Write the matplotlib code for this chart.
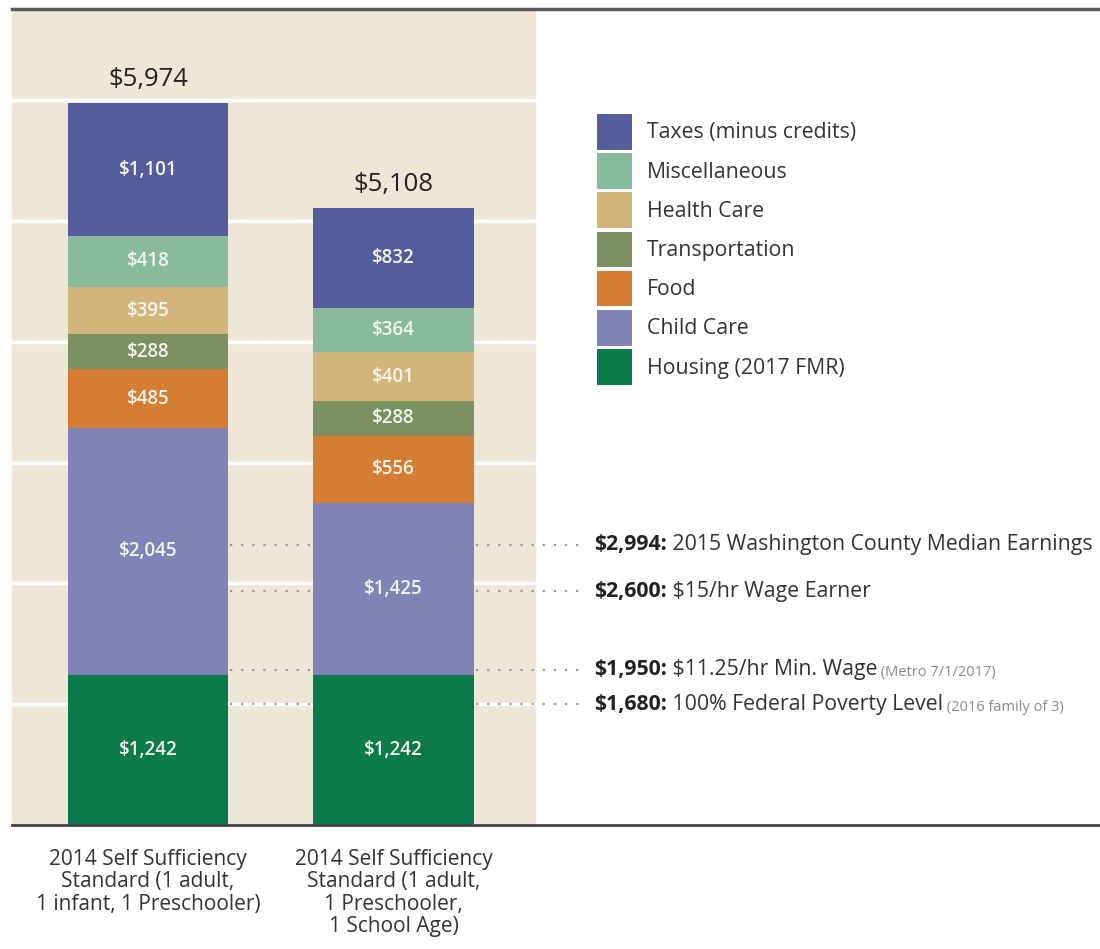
import matplotlib
matplotlib.use("Agg")
import matplotlib.pyplot as plt
from matplotlib.patches import Rectangle

plt.rcParams["font.family"] = ["Open Sans", "DejaVu Sans"]

# ---- data -------------------------------------------------------------
categories = [
    "2014 Self Sufficiency\nStandard (1 adult,\n1 infant, 1 Preschooler)",
    "2014 Self Sufficiency\nStandard (1 adult,\n1 Preschooler,\n1 School Age)",
]
components = [
    "Housing (2017 FMR)",
    "Child Care",
    "Food",
    "Transportation",
    "Health Care",
    "Miscellaneous",
    "Taxes (minus credits)",
]
housing = [1242, 1242]
child_care = [2045, 1425]
food = [485, 556]
transportation = [288, 288]
health_care = [395, 401]
miscellaneous = [418, 364]
taxes = [1101, 832]
totals = [5974, 5108]

ref_amounts = [2994, 2600, 1950, 1680]
ref_text = [
    "2015 Washington County Median Earnings",
    "$15/hr Wage Earner",
    "$11.25/hr Min. Wage",
    "100% Federal Poverty Level",
]
ref_notes = ["", "", "(Metro 7/1/2017)", "(2016 family of 3)"]
# height where each marker line sits in the original graphic (not drawn to scale there)
ref_levels = [2320, 1935, 1285, 1000]

colors = ["#0b7a4d", "#8083b5", "#d67d34", "#7b9161", "#d1b57a", "#88bb9b", "#545c9c"]
beige = "#eee6d7"

# ---- layout helpers (pixel -> data) -------------------------------------
W, H = 1100, 949
X0, XU = 148, 245.5          # pixel of bar 0 centre, pixels per category
Y0, YU = 825, 725 / 6000     # pixel of baseline, pixels per dollar


def px(p):
    return (p - X0) / XU


def py(p):
    return (Y0 - p) / YU


fig = plt.figure(figsize=(W / 100, H / 100), dpi=100)
ax = fig.add_axes([0, 0, 1, 1])
ax.set_xlim(px(0), px(W))
ax.set_ylim(py(H), py(0))
ax.axis("off")

# background panel and grid
ax.add_patch(Rectangle((px(12), 0), px(535) - px(12), py(9), color=beige, zorder=0))
for g in range(1000, 7000, 1000):
    ax.plot([px(12), px(535)], [g, g], color="white", lw=2.5, zorder=1)
ax.plot([px(12), px(W)], [py(9), py(9)], color="#5a5a5a", lw=2.5, zorder=3)
ax.plot([px(12), px(W)], [0, 0], color="#444444", lw=2, zorder=3)

# stacked bars
series = [housing, child_care, food, transportation, health_care, miscellaneous, taxes]
x = [0, 1]
width = 0.652
bottoms = [0, 0]
handles = []
for name, vals, col in zip(components, series, colors):
    bars = ax.bar(x, vals, width=width, bottom=bottoms, color=col, label=name, zorder=2)
    handles.append(bars)
    for xi, v, b in zip(x, vals, bottoms):
        ax.text(xi, b + v / 2, f"${v:,}", ha="center", va="center", fontsize=13.5,
                fontweight="semibold", color="#f4f4ee", zorder=4)
    bottoms = [b + v for b, v in zip(bottoms, vals)]

for xi, t in zip(x, totals):
    ax.annotate(f"${t:,}", (xi, t), xytext=(0, 8), textcoords="offset points",
                ha="center", va="bottom", fontsize=18.5, color="#222222")

for xi, lab in zip(x, categories):
    ax.annotate(lab, (xi, 0), xytext=(0, -17), textcoords="offset points",
                ha="center", va="top", fontsize=15, color="#333333", linespacing=1.1)

# reference lines and their labels
gap = 2 / XU
for amt, txt, note, lvl in zip(ref_amounts, ref_text, ref_notes, ref_levels):
    ax.plot([width / 2 + gap, 1 - width / 2 - gap], [lvl, lvl], color="#9a9a9a",
            lw=1.6, ls=(0, (1, 4)), zorder=3)
    ax.plot([1 + width / 2 + gap, px(586)], [lvl, lvl], color="#9a9a9a",
            lw=1.6, ls=(0, (1, 4)), zorder=3)
    t1 = ax.text(px(594), lvl, f"${amt:,}:", ha="left", va="center", fontsize=15.3,
                 fontweight="bold", color="#222222")
    t2 = ax.annotate(" " + txt, (1, 0), xycoords=t1, ha="left", va="bottom",
                     fontsize=15.3, color="#333333")
    if note:
        ax.annotate(" " + note, (1, 0), xycoords=t2, ha="left", va="bottom",
                    fontsize=10.5, color="#8a8a8a")

# legend (top entry = top of stack)
ax.legend(handles[::-1], components[::-1], loc="upper left",
          bbox_to_anchor=(597 / W, 1 - 114 / H), bbox_transform=fig.transFigure,
          frameon=False, fontsize=15.3, handlelength=1.67, handleheight=2.2,
          labelspacing=0.17, handletextpad=0.7, borderpad=0, borderaxespad=0,
          labelcolor="#333333")

fig.savefig("out.png", dpi=100)
